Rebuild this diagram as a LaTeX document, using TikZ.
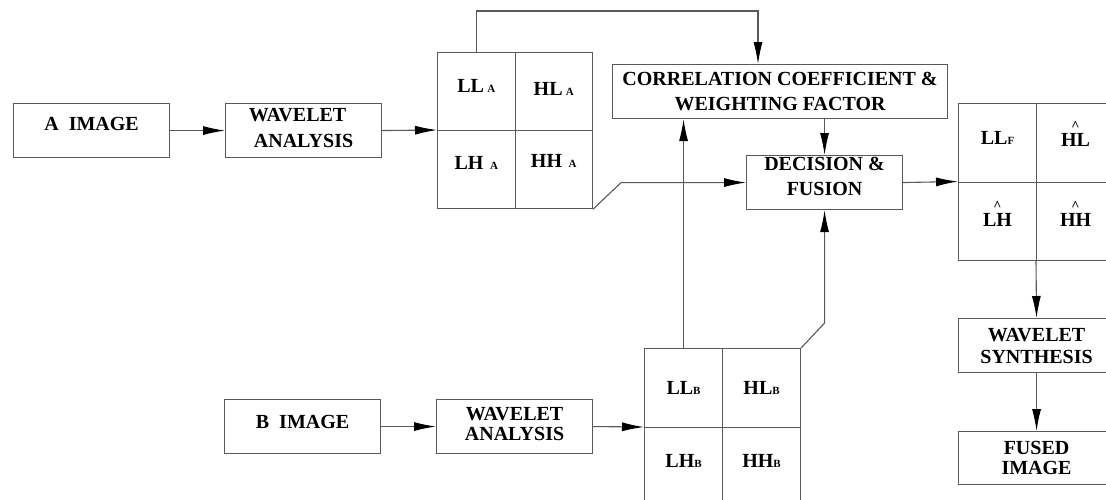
\documentclass[tikz,border=0pt]{standalone}
\usepackage{fontspec}
\setmainfont{Liberation Serif}
\usetikzlibrary{arrows.meta}
\newcommand\sbs[1]{{\fontsize{11}{12}\selectfont #1}}
\newcommand\hatover[1]{\leavevmode\setbox0\hbox{#1}\makebox[\wd0][c]{\raisebox{16pt}[0pt][0pt]{\fontsize{14}{14}\selectfont\textasciicircum}}\kern-\wd0\box0}
\newcommand\up[2]{\raisebox{#1}[\height][\depth]{#2}}
\begin{document}
\begin{tikzpicture}[x=1pt,y=-1pt,
  line/.style={draw=black!65, line width=1.1pt},
  arr/.style={line, -{Latex[length=22pt,width=9pt,color=black]}},
  box/.style={line, rectangle, inner sep=0pt, minimum width=156pt, minimum height=54pt, anchor=north west, align=center, font=\bfseries\fontsize{20}{22}\selectfont},
  cell/.style={line, rectangle, inner sep=0pt, minimum width=77.5pt, minimum height=78pt, anchor=north west, font=\bfseries\fontsize{20}{22}\selectfont}
]
\fill[white] (0,0) rectangle (1106,499);
\useasboundingbox (0,0) rectangle (1106,499);

% row A
\node[box] (aimg) at (13,103) {\up{7pt}{A\ \ IMAGE}};
\node[box, font=\bfseries\fontsize{20}{26}\selectfont] (waA) at (225,103) {\up{3pt}{\hspace*{-12pt}WAVELET}\\ \up{3pt}{ANALYSIS}};
\node[cell] (gA11) at (437,52) {\up{6pt}{LL\,\sbs{A}}};
\node[cell] (gA12) at (514.5,52) {\up{3pt}{HL\,\sbs{A}}};
\node[cell] (gA21) at (437,130) {\up{7pt}{LH\,\,\sbs{A}}};
\node[cell] (gA22) at (514.5,130) {\up{9pt}{HH\,\,\sbs{A}}};

% correlation and decision
\node[box, minimum width=335pt, font=\bfseries\fontsize{20}{25}\selectfont] (cc) at (612,64) {CORRELATION COEFFICIENT \&\\WEIGHTING FACTOR};
\node[box, font=\bfseries\fontsize{20}{25}\selectfont] (dec) at (746,155) {\up{6pt}{DECISION \&}\\ \up{6pt}{FUSION}};

% fused grid
\node[cell, minimum width=78pt, minimum height=78.5pt] (gF11) at (958,103) {\up{5pt}{LL\sbs{F}}};
\node[cell, minimum width=78pt, minimum height=78.5pt] (gF12) at (1036,103) {\up{3pt}{\hatover{HL}}};
\node[cell, minimum width=78pt, minimum height=78.5pt] (gF21) at (958,181.5) {\up{1pt}{\hatover{LH}}};
\node[cell, minimum width=78pt, minimum height=78.5pt] (gF22) at (1036,181.5) {\up{1pt}{\hatover{HH}}};

\node[box, font=\bfseries\fontsize{20}{22}\selectfont] (syn) at (958,318) {WAVELET\\SYNTHESIS};
\node[box, minimum height=53pt, font=\bfseries\fontsize{20}{20}\selectfont] (fus) at (958,431) {FUSED\\IMAGE};

% row B
\node[box] (bimg) at (224,399) {\up{5pt}{B\ \ IMAGE}};
\node[box, minimum width=156pt, font=\bfseries\fontsize{20}{20}\selectfont] (waB) at (436,399) {\up{3pt}{WAVELET}\\ \up{3pt}{ANALYSIS}};
\node[cell, minimum width=78pt, minimum height=79pt] (gB11) at (644,348) {LL\sbs{B}};
\node[cell, minimum width=78pt, minimum height=79pt] (gB12) at (722,348) {HL\sbs{B}};
\node[cell, minimum width=78pt, minimum height=79pt] (gB21) at (644,427) {\up{6pt}{LH\sbs{B}}};
\node[cell, minimum width=78pt, minimum height=79pt] (gB22) at (722,427) {\up{6pt}{HH\sbs{B}}};

\coordinate (topA) at (0,11);

% connectors
\draw[arr] (aimg.east) -- (waA.west);
\draw[arr] (waA.east) -- (gA21.north west);
\draw[arr] (gA11.north) -- (gA11.north |- topA) -| ([xshift=146pt]cc.north west);
\draw[arr] (gA22.south east) -- ([xshift=28pt]gA22.south east |- dec.west) -- (dec.west);
\draw[arr] (gB11.north) -- (gB11.north |- cc.south);
\draw[arr] (dec.north |- cc.south) -- (dec.north);
\draw[arr] (gB12.north east) -- ([yshift=25pt]gB12.north east -| dec.south) -- (dec.south);
\draw[arr] (dec.east) -- (gF21.north west);
\draw[arr] (gF22.south west) -- (syn.north);
\draw[arr] (syn.south) -- (fus.north);
\draw[arr] (bimg.east) -- (waB.west);
\draw[arr] (waB.east) -- (gB21.north west);
\end{tikzpicture}
\end{document}
